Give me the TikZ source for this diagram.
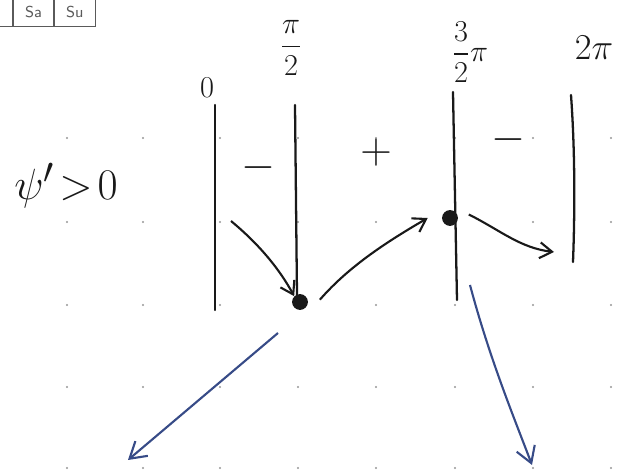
\documentclass[tikz,border=0pt]{standalone}
\usepackage{amsmath, amssymb}
\usepackage{xcolor}
\usetikzlibrary{arrows.meta, positioning}
\definecolor{inkblack}{RGB}{25,25,25}
\definecolor{inkblue}{RGB}{55,75,135}
\definecolor{gridgray}{RGB}{150,150,150}
\definecolor{cellgray}{RGB}{90,90,90}

\begin{document}
\begin{tikzpicture}[
  x=0.02cm, y=-0.02cm,
  signline/.style={inkblack, line width=1.3pt, line cap=round},
  crit/.style={circle, fill=inkblack, inner sep=0pt, minimum size=9pt},
  flow/.style={inkblack, line width=1.2pt, -{Straight Barb[length=7pt, width=9pt]}},
  trend/.style={inkblue, line width=1.2pt, -{Straight Barb[length=9pt, width=11pt]}},
  lbl/.style={inkblack, font=\fontsize{19}{22}\selectfont},
  sgn/.style={inkblack, font=\fontsize{26}{28}\selectfont},
  cell/.style={draw=cellgray, line width=0.6pt, minimum width=23pt, minimum height=17pt, inner sep=0pt, font=\sffamily\small, text=cellgray}
]
  \useasboundingbox (0,0) rectangle (620,473);

  % paper dots
  \foreach \gx in {67,143,220,298,376,455,533,611}
    \foreach \gy in {138,222,305,387,468}
      \fill[gridgray] (\gx,\gy) circle (0.6pt);

  % day cells, top left
  \node[cell] (c0) at (-8,12) {};
  \node[cell, right=0pt of c0] (sa) {Sa};
  \node[cell, right=0pt of sa] (su) {Su};

  % sign of the derivative
  \node[lbl, font=\fontsize{30}{32}\selectfont] (cond) at (66,186) {$\psi'\!>\!0$};

  % critical values
  \node[lbl] (x0) at (207,88) {$0$};
  \node[lbl] (x1) at (291,48) {$\dfrac{\pi}{2}$};
  \node[lbl] (x2) at (470,52) {$\dfrac{3}{2}\pi$};
  \node[lbl, font=\fontsize{22}{24}\selectfont] (x3) at (594,48) {$2\pi$};

  % vertical bars
  \coordinate (t0) at (215,105); \coordinate (b0) at (215,310);
  \coordinate (t1) at (295,105); \coordinate (b1) at (297,296);
  \coordinate (t2) at (453,92);  \coordinate (b2) at (457,300);
  \coordinate (t3) at (571,95);  \coordinate (b3) at (573,262);
  \draw[signline] (t0) -- (b0);
  \draw[signline] (t1) -- (b1);
  \draw[signline] (t2) -- (b2);
  \draw[signline] (t3) .. controls (575,150) and (575,210) .. (b3);

  % signs
  \node[sgn] (s1) at (258,168) {$-$};
  \node[sgn] (s2) at (376,153) {$+$};
  \node[sgn] (s3) at (508,140) {$-$};

  % extrema
  \node[crit] (m1) at (300,302) {};
  \node[crit] (m2) at (450,218) {};

  % monotonic arrows
  \coordinate (a0) at (231,221);
  \coordinate (a3) at (554,252);
  \draw[flow] (a0) .. controls (260,245) and (280,270) .. (m1.north west);
  \draw[flow] ([xshift=8pt,yshift=-2pt]m1.north east) .. controls (350,265) and (390,240) .. ([xshift=-8pt]m2.west);
  \draw[flow] ([xshift=6pt,yshift=2pt]m2.east) .. controls (500,230) and (520,248) .. (a3);

  % limits
  \coordinate (l1) at (278,333); \coordinate (e1) at (128,460);
  \coordinate (l2) at (470,285); \coordinate (e2) at (532,465);
  \draw[trend] (l1) -- (e1);
  \draw[trend] (l2) .. controls (490,360) and (515,420) .. (e2);
\end{tikzpicture}
\end{document}
